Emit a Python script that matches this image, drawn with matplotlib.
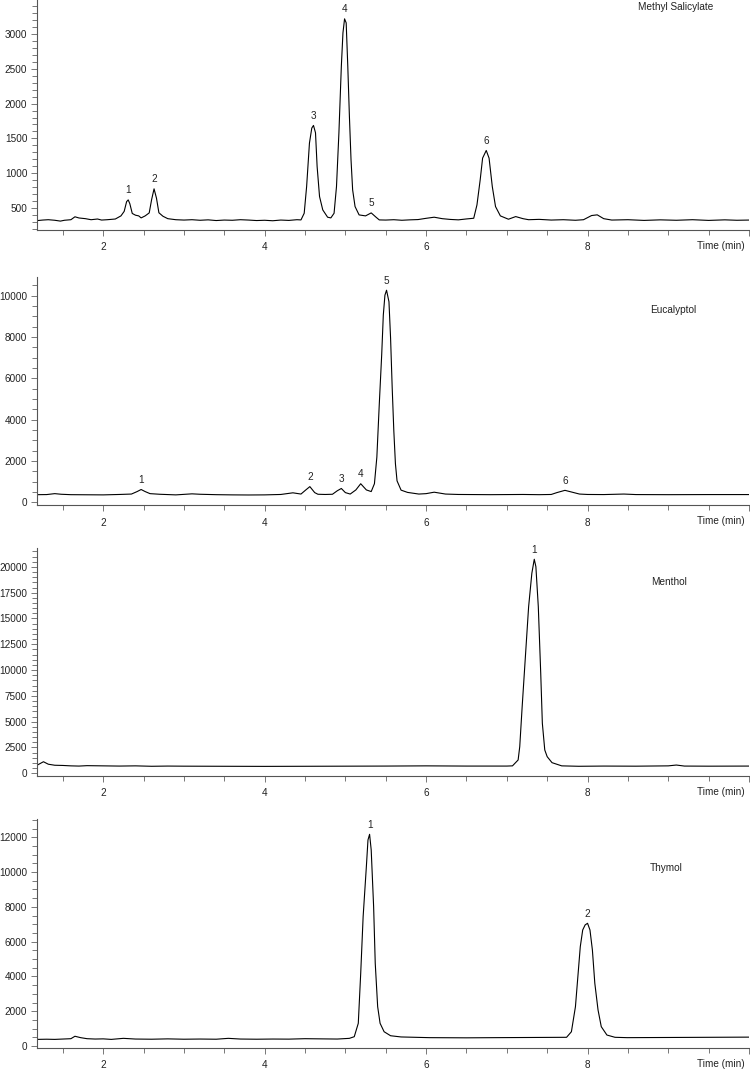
import matplotlib
matplotlib.use("Agg")
import matplotlib.pyplot as plt
from matplotlib.ticker import MultipleLocator, FuncFormatter

plt.rcParams['font.family'] = ['Liberation Sans', 'DejaVu Sans']

# ---------------- data ----------------
ms_t = [1.18, 1.25, 1.32, 1.40, 1.47, 1.52, 1.60, 1.65, 1.70, 1.78, 1.85, 1.93, 1.98, 2.05, 2.15,
        2.22, 2.26, 2.29, 2.31, 2.33, 2.36, 2.40, 2.44, 2.47, 2.52, 2.57, 2.60, 2.63, 2.66, 2.69,
        2.74, 2.80, 2.90, 3.00, 3.10, 3.20, 3.30, 3.40, 3.50, 3.60, 3.70, 3.80, 3.90, 4.00, 4.10,
        4.20, 4.30, 4.40, 4.45, 4.49, 4.52, 4.555, 4.584, 4.605, 4.63, 4.65, 4.68, 4.72, 4.78,
        4.82, 4.86, 4.89, 4.92, 4.95, 4.97, 4.99, 5.01, 5.03, 5.05, 5.07, 5.09, 5.12, 5.17, 5.25,
        5.32, 5.38, 5.42, 5.50, 5.60, 5.70, 5.80, 5.90, 6.00, 6.10, 6.20, 6.30, 6.40, 6.50, 6.59,
        6.63, 6.67, 6.70, 6.745, 6.78, 6.82, 6.86, 6.92, 7.02, 7.11, 7.20, 7.27, 7.40, 7.55, 7.70,
        7.85, 7.95, 8.05, 8.12, 8.20, 8.30, 8.50, 8.70, 8.90, 9.10, 9.30, 9.50, 9.70, 9.85, 10.0]
ms_v = [317, 325, 330, 322, 310, 322, 330, 372, 355, 345, 330, 340, 325, 330, 340,
        385, 450, 590, 615, 560, 420, 395, 385, 356, 385, 428, 620, 774, 640, 430,
        380, 345, 330, 325, 330, 322, 328, 318, 325, 322, 330, 325, 318, 322, 315,
        325, 320, 330, 327, 423, 807, 1432, 1648, 1686, 1580, 1095, 663, 471, 366,
        356, 423, 807, 1580, 2536, 3017, 3219, 3161, 2536, 1816, 1192, 759, 519, 399, 385,
        428, 366, 327, 325, 330, 322, 328, 332, 350, 366, 345, 334, 328, 341, 351,
        543, 903, 1216, 1326, 1216, 807, 519, 385, 337, 375, 345, 330, 335, 325, 330,
        322, 330, 390, 400, 345, 325, 330, 320, 328, 322, 330, 320, 328, 322, 325]
ms_peak_t = [2.31, 2.63, 4.605, 4.99, 5.32, 6.745]
ms_peak_v = [615, 774, 1686, 3219, 428, 1326]

eu_t = [1.18, 1.30, 1.40, 1.48, 1.60, 1.80, 2.00, 2.20, 2.35, 2.42, 2.47, 2.52, 2.58, 2.70, 2.90,
        3.10, 3.20, 3.40, 3.60, 3.80, 4.00, 4.20, 4.35, 4.45, 4.51, 4.56, 4.62, 4.66, 4.75, 4.84,
        4.90, 4.95, 5.00, 5.06, 5.13, 5.19, 5.26, 5.32, 5.36, 5.39, 5.42, 5.45, 5.47, 5.49, 5.51,
        5.54, 5.56, 5.58, 5.60, 5.62, 5.64, 5.69, 5.77, 5.91, 6.00, 6.10, 6.24, 6.40, 6.60, 6.80,
        7.00, 7.20, 7.40, 7.55, 7.62, 7.72, 7.82, 7.90, 8.00, 8.20, 8.45, 8.60, 9.00, 9.50, 10.0]
eu_v = [370, 375, 420, 390, 370, 365, 360, 380, 400, 520, 620, 520, 420, 390, 360,
        410, 390, 370, 360, 355, 360, 380, 460, 400, 600, 760, 470, 390, 380, 390,
        560, 670, 470, 400, 600, 900, 600, 520, 900, 2190, 4750, 7150, 9070, 10030, 10270,
        9710, 7950, 5550, 3470, 1870, 1040, 590, 480, 400, 420, 490, 400, 380, 375, 370,
        375, 380, 370, 380, 470, 580, 480, 400, 380, 375, 400, 375, 370, 375, 375]
eu_peak_t = [2.47, 4.56, 4.95, 5.19, 5.51, 7.72]
eu_peak_v = [620, 760, 670, 900, 10270, 580]

me_t = [1.18, 1.22, 1.26, 1.32, 1.40, 1.50, 1.60, 1.70, 1.80, 2.00, 2.20, 2.40, 2.60, 2.80, 3.00,
        3.50, 4.00, 4.50, 5.00, 5.50, 6.00, 6.50, 7.00, 7.07, 7.14, 7.16, 7.19, 7.23, 7.27, 7.31,
        7.34, 7.36, 7.39, 7.42, 7.44, 7.47, 7.50, 7.56, 7.68, 7.89, 8.20, 8.60, 9.00, 9.10, 9.20,
        9.50, 10.0]
me_v = [780, 950, 1120, 880, 780, 760, 720, 700, 740, 720, 700, 720, 680, 700, 690,
        680, 670, 680, 690, 700, 720, 700, 700, 720, 1290, 2580, 6450, 11300, 16140, 19380,
        20740, 20020, 16140, 9690, 4850, 2260, 1610, 1030, 720, 680, 700, 690, 720, 800, 700,
        690, 700]
me_peak_t = [7.34]
me_peak_v = [20740]

th_t = [1.18, 1.30, 1.40, 1.50, 1.60, 1.65, 1.72, 1.80, 1.90, 2.00, 2.10, 2.25, 2.40, 2.60, 2.80,
        3.00, 3.20, 3.40, 3.55, 3.70, 3.90, 4.10, 4.30, 4.50, 4.70, 4.90, 5.05, 5.11, 5.16, 5.19,
        5.22, 5.26, 5.28, 5.30, 5.32, 5.35, 5.37, 5.40, 5.43, 5.48, 5.56, 5.69, 6.04, 6.50, 6.86,
        7.30, 7.74, 7.80, 7.85, 7.88, 7.91, 7.94, 7.97, 8.00, 8.03, 8.06, 8.09, 8.13, 8.17, 8.24,
        8.34, 8.49, 9.00, 9.50, 10.0]
th_v = [380, 390, 380, 400, 420, 560, 480, 420, 400, 410, 380, 440, 400, 390, 410,
        390, 400, 390, 440, 400, 390, 400, 395, 420, 410, 400, 440, 535, 1305, 4180,
        7435, 10310, 11845, 12170, 11270, 8010, 4755, 2260, 1305, 820, 590, 520, 480, 470, 480,
        490, 500, 820, 2260, 3985, 5710, 6670, 6960, 7055, 6670, 5520, 3605, 2070, 1110, 630,
        500, 480, 490, 500, 510]
th_peak_t = [5.30, 8.00]
th_peak_v = [12170, 7055]

names = ["Methyl Salicylate", "Eucalyptol", "Menthol", "Thymol"]
x_ticks_labeled = [2, 4, 6, 8]

# ---------------- layout ----------------
W, H = 750, 1069
fig = plt.figure(figsize=(W / 100, H / 100), dpi=100)

panels = [
    dict(t=ms_t, v=ms_v, pt=ms_peak_t, pv=ms_peak_v, top=0, bot=230, ylim=(182, 3490),
         major=500, minor=100, title_xy=(638, 7)),
    dict(t=eu_t, v=eu_v, pt=eu_peak_t, pv=eu_peak_v, top=277, bot=505, ylim=(-130, 10910),
         major=2000, minor=500, title_xy=(650, 310)),
    dict(t=me_t, v=me_v, pt=me_peak_t, pv=me_peak_v, top=548, bot=776, ylim=(-262, 21830),
         major=2500, minor=500, title_xy=(651, 582)),
    dict(t=th_t, v=th_v, pt=th_peak_t, pv=th_peak_v, top=819, bot=1048, ylim=(-115, 13050),
         major=2000, minor=500, title_xy=(650, 868)),
]

FS = 7.2
spine_c = '#555555'
tick_c = '#777777'
text_c = '#222222'

for name, p in zip(names, panels):
    ax = fig.add_axes([37 / W, 1 - p['bot'] / H, 712 / W, (p['bot'] - p['top']) / H])
    ax.plot(p['t'], p['v'], color='black', lw=0.8)
    ax.set_xlim(1.18, 10.0)
    ax.set_ylim(*p['ylim'])
    for s in ['top', 'right']:
        ax.spines[s].set_visible(False)
    for s in ['left', 'bottom']:
        ax.spines[s].set_color(spine_c)
        ax.spines[s].set_linewidth(0.8)
    ax.xaxis.set_major_locator(MultipleLocator(2))
    ax.xaxis.set_minor_locator(MultipleLocator(0.5))
    ax.xaxis.set_major_formatter(FuncFormatter(
        lambda x, pos: (f"{int(round(x))}" if int(round(x)) in x_ticks_labeled else "")))
    ax.yaxis.set_major_locator(MultipleLocator(p['major']))
    ax.yaxis.set_minor_locator(MultipleLocator(p['minor']))
    ax.yaxis.set_major_formatter(FuncFormatter(lambda y, pos: f"{int(round(y))}"))
    ax.tick_params(axis='both', which='both', direction='out', color=tick_c, width=0.7,
                   labelsize=FS, labelcolor=text_c)
    ax.tick_params(axis='both', which='major', length=4)
    ax.tick_params(axis='both', which='minor', length=3.5)
    ax.tick_params(axis='x', which='major', pad=5)
    ax.tick_params(axis='y', which='major', pad=3)
    for lab, (pt, pv) in enumerate(zip(p['pt'], p['pv']), start=1):
        ax.annotate(str(lab), xy=(pt, pv), xytext=(0, 9.5), textcoords='offset pixels',
                    ha='center', va='center', fontsize=FS, color=text_c)
    ax.annotate('Time (min)', xy=(1, 0), xycoords='axes fraction', xytext=(-4, -16),
                textcoords='offset pixels', ha='right', va='center', fontsize=FS, color=text_c)
    tx, ty = p['title_xy']
    fig.text(tx / W, 1 - ty / H, name, ha='left', va='center', fontsize=FS, color=text_c)

fig.savefig('out.png', dpi=100)
